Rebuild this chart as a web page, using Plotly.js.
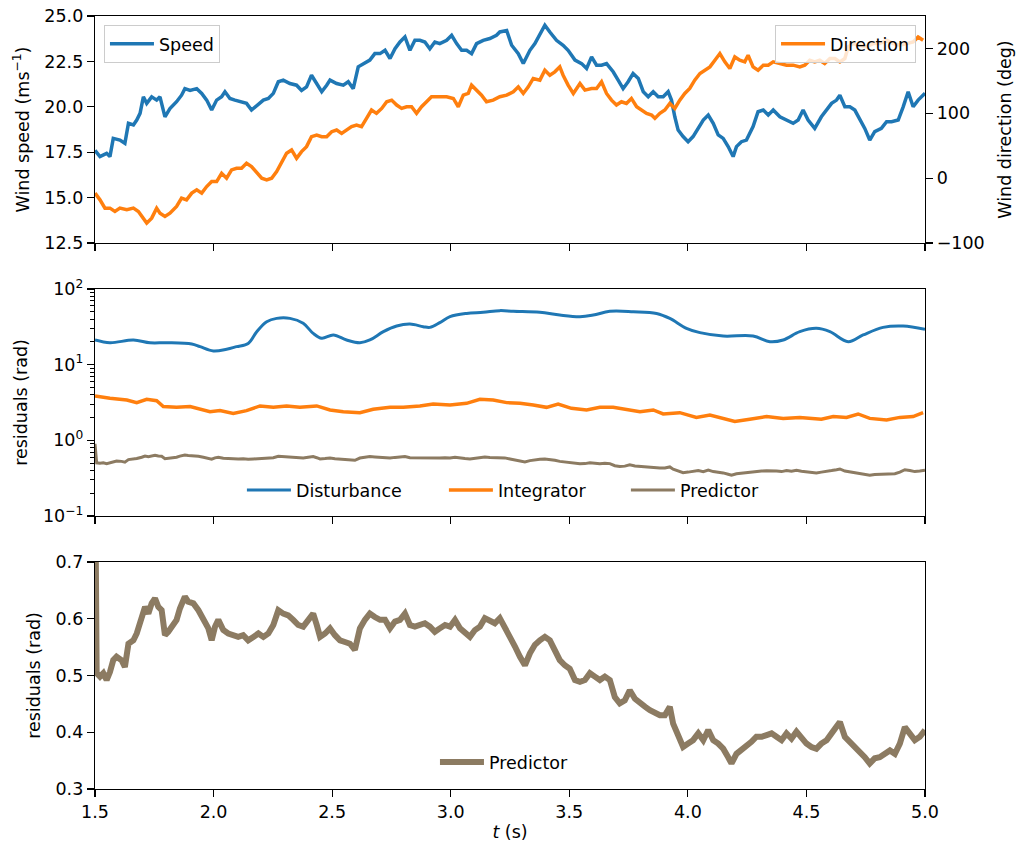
<!DOCTYPE html>
<html><head><meta charset="utf-8">
<script src="https://cdn.plot.ly/plotly-3.0.1.min.js"></script>
<style>html,body{margin:0;padding:0;background:#fff}#chart{width:1016px;height:846px}</style>
</head><body><div id="chart"></div>
<script>
// ---- Panel 1: wind speed (m/s) ----
const speedT = [1.500,1.521,1.549,1.563,1.577,1.605,1.626,1.641,1.662,1.676,1.690,1.704,1.718,1.739,1.760,1.774,1.795,1.816,1.844,1.865,1.879,1.901,1.929,1.950,1.971,1.992,2.013,2.034,2.048,2.069,2.090,2.111,2.139,2.160,2.182,2.210,2.231,2.252,2.273,2.294,2.322,2.350,2.371,2.392,2.413,2.435,2.456,2.477,2.491,2.519,2.547,2.568,2.589,2.610,2.631,2.659,2.680,2.702,2.723,2.744,2.765,2.786,2.807,2.828,2.849,2.870,2.891,2.912,2.933,2.954,2.983,3.004,3.025,3.046,3.067,3.088,3.109,3.137,3.165,3.193,
3.207,3.236,3.257,3.285,3.306,3.334,3.355,3.376,3.397,3.418,3.446,3.474,3.495,3.524,3.552,3.573,3.594,3.615,3.636,3.657,3.685,3.706,3.727,3.748,3.769,3.791,3.812,3.833,3.854,3.875,3.896,3.917,3.931,3.945,3.959,3.980,4.001,4.022,4.044,4.065,4.086,4.107,4.128,4.149,4.170,4.191,4.205,4.226,4.247,4.275,4.296,4.318,4.339,4.360,4.388,4.416,4.444,4.465,4.486,4.507,4.535,4.563,4.585,4.606,4.627,4.641,4.662,4.683,4.704,4.725,4.746,4.767,4.788,4.816,4.838,4.859,4.887,4.908,4.929,4.950,4.971,5.0];
const speedV = [17.6,17.26,17.44,17.26,18.26,18.17,17.99,19.09,19.0,19.27,19.64,20.55,20.19,20.55,20.37,20.55,19.45,19.9,20.28,20.64,21.0,20.9,21.0,20.74,20.37,19.82,20.37,20.55,20.83,20.46,20.37,20.28,20.19,19.82,20.09,20.37,20.46,20.74,21.38,21.47,21.28,21.19,20.9,21.1,21.74,21.28,20.83,21.19,21.47,21.28,21.19,21.38,21.0,22.2,22.38,22.57,22.93,22.93,23.11,22.66,23.2,23.57,23.85,23.11,23.66,23.66,23.57,23.2,23.57,23.48,23.66,23.94,23.48,23.11,23.11,22.93,23.48,23.66,23.76,23.94,
24.12,24.2,23.39,22.93,22.38,23.11,23.48,24.03,24.49,24.12,23.66,23.39,23.11,22.57,22.38,22.11,22.75,22.29,22.29,22.38,21.93,21.47,21.0,21.38,21.83,21.56,20.83,20.55,20.83,20.55,20.55,20.83,20.37,19.45,18.72,18.36,18.08,18.36,18.81,19.27,19.55,19.09,18.45,18.26,17.81,17.26,17.81,18.08,18.17,18.91,19.73,19.82,19.55,19.82,19.45,19.27,19.09,19.27,19.82,19.27,18.81,19.45,19.82,20.19,20.37,20.64,20.0,20.0,19.82,19.36,18.81,18.17,18.63,18.81,19.18,19.18,19.27,20.0,20.83,20.0,20.37,20.74];

// ---- Panel 1: wind direction (deg) ----
const dirT = [1.500,1.521,1.542,1.563,1.584,1.605,1.634,1.662,1.683,1.704,1.718,1.739,1.760,1.774,1.795,1.816,1.844,1.865,1.886,1.908,1.929,1.950,1.971,1.992,2.013,2.034,2.055,2.076,2.097,2.118,2.139,2.160,2.182,2.203,2.224,2.245,2.266,2.287,2.308,2.329,2.350,2.371,2.392,2.413,2.435,2.456,2.477,2.498,2.519,2.540,2.561,2.582,2.603,2.624,2.645,2.666,2.687,2.709,2.730,2.751,2.772,2.793,2.814,2.835,2.856,2.877,2.898,2.919,2.940,2.962,2.983,3.011,3.032,3.053,3.074,3.088,3.109,3.130,3.151,3.179,3.207,
3.236,3.264,3.285,3.306,3.327,3.348,3.376,3.397,3.418,3.439,3.460,3.474,3.495,3.517,3.545,3.566,3.594,3.615,3.636,3.657,3.678,3.699,3.720,3.741,3.762,3.784,3.805,3.826,3.847,3.861,3.882,3.903,3.924,3.945,3.966,3.987,4.008,4.029,4.051,4.072,4.093,4.114,4.135,4.156,4.177,4.198,4.219,4.240,4.254,4.275,4.296,4.318,4.339,4.360,4.388,4.416,4.444,4.472,4.493,4.514,4.535,4.556,4.577,4.599,4.620,4.641,4.662,4.676,4.697,4.725,4.753,4.781,4.809,4.838,4.866,4.894,4.922,4.950,4.971,4.992];
const dirV = [-23.1,-33.4,-46.2,-46.2,-51.3,-46.2,-48.8,-46.2,-51.3,-61.6,-69.3,-61.6,-46.2,-53.9,-59.0,-53.9,-43.6,-30.8,-33.4,-23.1,-18.0,-23.1,-12.9,-5.2,-5.2,7.6,-0.1,12.7,15.3,15.3,23.0,17.9,7.6,-0.1,-2.6,-0.1,10.2,23.0,38.4,43.5,30.7,40.9,48.6,64.0,66.5,64.0,64.0,71.7,74.2,69.1,74.2,79.4,81.9,79.4,92.2,105.0,99.9,107.5,117.8,120.3,112.7,107.5,110.1,110.1,99.9,110.1,117.8,125.5,125.5,125.5,125.5,122.9,110.1,128.0,130.6,143.4,135.7,128.0,117.8,120.3,125.5,
128.0,133.2,140.8,130.6,140.8,153.7,151.1,166.5,158.8,163.9,171.6,158.8,143.4,130.6,146.0,135.7,138.3,138.3,148.5,130.6,120.3,112.7,117.8,115.2,122.9,110.1,105.0,99.9,97.3,92.2,99.9,105.0,115.2,107.5,120.3,130.6,138.3,151.1,161.4,166.5,171.6,181.8,192.1,179.3,169.0,186.9,181.8,179.3,189.5,171.6,166.5,174.2,174.2,179.3,176.7,174.2,174.2,171.6,174.2,181.8,179.3,181.8,176.7,184.4,184.4,179.3,184.4,202.3,207.5,204.9,202.3,207.5,207.5,212.6,207.5,204.9,207.5,210.0,217.7,212.6];

// ---- Panel 2: residuals (rad, log) ----
const distT = [1.500,1.563,1.662,1.732,1.802,1.908,1.943,1.999,2.055,2.097,2.146,2.182,2.224,2.266,2.322,2.378,2.420,2.456,2.505,2.561,2.617,2.659,2.716,2.772,2.828,2.884,2.912,2.954,2.997,3.067,3.137,3.207,3.264,3.376,3.460,3.545,3.601,3.671,3.770,3.868,3.924,3.994,4.051,4.149,4.275,4.346,4.402,4.472,4.542,4.599,4.676,4.739,4.823,4.908,5.0];
const distV = [21.2,19.5,21.2,19.5,19.5,18.8,17.3,15.2,16.0,17.3,19.1,27.3,37.0,40.9,40.9,35.2,25.9,22.3,24.7,21.2,19.5,21.2,27.3,32.4,34.4,31.8,31.1,35.9,43.1,47.6,49.2,51.8,50.7,49.2,45.3,43.1,45.3,50.7,50.1,47.6,40.9,30.2,26.5,23.9,23.9,20.1,21.2,27.3,30.2,27.3,20.1,24.7,31.1,32.4,29.3];

const integT = [1.500,1.563,1.634,1.676,1.718,1.760,1.788,1.844,1.901,1.943,1.985,2.027,2.083,2.139,2.196,2.252,2.308,2.364,2.435,2.491,2.547,2.617,2.673,2.744,2.800,2.870,2.926,2.997,3.067,3.123,3.179,3.236,3.292,3.348,3.404,3.453,3.509,3.573,3.629,3.685,3.741,3.798,3.854,3.896,3.966,4.036,4.093,4.149,4.198,4.261,4.332,4.402,4.472,4.563,4.613,4.669,4.718,4.767,4.838,4.894,4.950,4.992];
const integV = [3.85,3.59,3.41,3.15,3.49,3.34,2.79,2.73,2.79,2.57,2.39,2.47,2.27,2.47,2.85,2.73,2.85,2.73,2.85,2.52,2.39,2.32,2.57,2.73,2.73,2.85,3.02,2.93,3.08,3.49,3.41,3.15,3.08,2.93,2.73,3.02,2.65,2.52,2.73,2.73,2.57,2.39,2.52,2.23,2.32,2.01,2.16,1.95,1.77,1.90,2.06,1.95,2.01,1.90,2.06,2.01,2.23,1.95,1.86,2.01,2.06,2.32];

// ---- Predictor residuals (rad), shown in panels 2 and 3 ----
const predT = [1.500,1.507,1.521,1.535,1.549,1.563,1.577,1.591,1.612,1.626,1.641,1.662,1.676,1.697,1.711,1.725,1.739,1.753,1.767,1.781,1.795,1.809,1.823,1.844,1.858,1.879,1.893,1.915,1.936,1.957,1.978,1.992,2.006,2.020,2.041,2.062,2.083,2.104,2.125,2.146,2.168,2.189,2.210,2.231,2.252,2.273,2.294,2.315,2.336,2.357,2.378,2.399,2.420,2.435,2.449,2.470,2.491,2.512,2.533,2.554,2.575,2.596,2.617,2.638,2.659,2.680,2.702,2.723,2.744,2.765,2.786,2.807,2.828,2.849,2.870,2.891,2.912,2.933,2.954,2.976,2.997,3.018,3.039,3.060,3.081,3.102,3.123,3.144,3.165,3.186,3.207,
3.228,3.250,3.271,3.292,3.313,3.334,3.355,3.376,3.397,3.418,3.439,3.460,3.481,3.502,3.524,3.545,3.566,3.587,3.608,3.629,3.650,3.671,3.692,3.713,3.734,3.755,3.777,3.798,3.819,3.840,3.861,3.882,3.903,3.924,3.938,3.959,3.980,4.001,4.022,4.044,4.065,4.086,4.107,4.128,4.149,4.170,4.184,4.205,4.226,4.247,4.268,4.289,4.311,4.332,4.353,4.374,4.395,4.416,4.437,4.458,4.479,4.500,4.521,4.542,4.563,4.585,4.606,4.627,4.641,4.662,4.683,4.704,4.725,4.746,4.767,4.788,4.809,4.831,4.852,4.873,4.894,4.915,4.936,4.957,4.978,5.0];
const predV = [0.90,0.504,0.498,0.504,0.492,0.506,0.527,0.533,0.527,0.515,0.556,0.562,0.574,0.598,0.621,0.609,0.627,0.636,0.621,0.615,0.571,0.577,0.586,0.598,0.618,0.639,0.630,0.627,0.615,0.598,0.583,0.562,0.586,0.598,0.580,0.574,0.571,0.568,0.571,0.562,0.568,0.574,0.568,0.574,0.589,0.615,0.609,0.606,0.598,0.589,0.586,0.598,0.609,0.589,0.568,0.574,0.583,0.571,0.562,0.559,0.556,0.545,0.583,0.598,0.609,0.603,0.598,0.598,0.583,0.595,0.598,0.609,0.589,0.586,0.589,0.592,0.586,0.577,0.583,0.589,0.586,0.598,0.583,0.574,0.568,0.580,0.586,0.601,0.595,0.592,0.601,
0.586,0.568,0.551,0.533,0.518,0.539,0.554,0.562,0.568,0.562,0.545,0.527,0.518,0.512,0.492,0.489,0.492,0.504,0.498,0.492,0.498,0.492,0.462,0.451,0.456,0.474,0.459,0.451,0.445,0.439,0.433,0.430,0.430,0.445,0.415,0.392,0.374,0.380,0.386,0.398,0.386,0.404,0.386,0.380,0.371,0.356,0.345,0.362,0.368,0.374,0.383,0.392,0.392,0.395,0.398,0.392,0.386,0.398,0.389,0.401,0.389,0.380,0.374,0.371,0.380,0.386,0.398,0.409,0.418,0.392,0.383,0.374,0.368,0.356,0.345,0.354,0.356,0.362,0.368,0.362,0.380,0.409,0.398,0.386,0.392,0.404];

const xTicks = [1.5,2.0,2.5,3.0,3.5,4.0,4.5,5.0];
const speedTicks = [12.5,15.0,17.5,20.0,22.5,25.0];
const dirTicks = [-100,0,100,200];
const logTicks = [0.1,1,10,100];
const logTickText = ['10<sup>−1</sup>','10<sup>0</sup>','10<sup>1</sup>','10<sup>2</sup>'];
const logMinor = [0.2,0.3,0.4,0.5,0.6,0.7,0.8,0.9,2,3,4,5,6,7,8,9,20,30,40,50,60,70,80,90];
const resTicks = [0.3,0.4,0.5,0.6,0.7];

const BLUE='#1f77b4', ORANGE='#ff7f0e', BROWN='#8c7b62';
const FONT = {family:'DejaVu Sans, sans-serif', size:17.5, color:'#000'};

const traces = [
  {x:speedT, y:speedV, xaxis:'x', yaxis:'y', type:'scatter', mode:'lines', name:'Speed', line:{color:BLUE, width:3.5}, legend:'legend'},
  {x:dirT, y:dirV, xaxis:'x', yaxis:'y2', type:'scatter', mode:'lines', name:'Direction', line:{color:ORANGE, width:3.5}, legend:'legend2'},
  {x:distT, y:distV, xaxis:'x2', yaxis:'y3', type:'scatter', mode:'lines', name:'Disturbance', line:{color:BLUE, width:3, shape:'spline', smoothing:1}, legend:'legend3', legendwidth:143},
  {x:integT, y:integV, xaxis:'x2', yaxis:'y3', type:'scatter', mode:'lines', name:'Integrator', line:{color:ORANGE, width:3.5}, legend:'legend3', legendwidth:123},
  {x:predT, y:predV, xaxis:'x2', yaxis:'y3', type:'scatter', mode:'lines', name:'Predictor', line:{color:BROWN, width:3}, legend:'legend3'},
  {x:predT, y:predV, xaxis:'x3', yaxis:'y4', type:'scatter', mode:'lines', name:'Predictor', line:{color:BROWN, width:6}, legend:'legend4'}
];

function xa(anchor, labels){
  return {anchor:anchor, domain:[0,1], range:[1.5,5.0], tickmode:'array', tickvals:xTicks,
    ticktext: xTicks.map(v=>v.toFixed(1)), showticklabels:labels,
    ticks:'outside', ticklen:7, tickwidth:1.2, tickcolor:'#000',
    showline:true, mirror:true, linecolor:'#000', linewidth:1.2,
    showgrid:false, zeroline:false, tickfont:FONT};
}
function ya(domain, extra){
  return Object.assign({domain:domain, ticks:'outside', ticklen:7, tickwidth:1.2, tickcolor:'#000',
    showline:true, mirror:true, linecolor:'#000', linewidth:1.2,
    showgrid:false, zeroline:false, tickfont:FONT}, extra);
}

const layout = {
  width:1016, height:846,
  margin:{l:95, r:91, t:16, b:57},
  paper_bgcolor:'#fff', plot_bgcolor:'#fff',
  font:FONT,
  xaxis: xa('y', false),
  xaxis2: Object.assign(xa('y3', false), {matches:'x'}),
  xaxis3: Object.assign(xa('y4', true), {matches:'x', title:{text:'<i>t</i> (s)', font:FONT, standoff:4}}),
  yaxis: ya([0.7063,1.0], {range:[12.5,25.0], tickmode:'array', tickvals:speedTicks, ticktext:speedTicks.map(v=>v.toFixed(1)),
    title:{text:'Wind speed (ms<sup>−1</sup>)', font:FONT, standoff:10}}),
  yaxis2: {overlaying:'y', side:'right', anchor:'x', range:[-100,250], tickmode:'array', tickvals:dirTicks,
    ticks:'outside', ticklen:7, tickwidth:1.2, tickcolor:'#000', showline:true, linecolor:'#000', linewidth:1.2,
    showgrid:false, zeroline:false, tickfont:FONT, title:{text:'Wind direction (deg)', font:FONT, standoff:15}},
  yaxis3: ya([0.3532,0.6468], {type:'log', range:[-1,2], tickmode:'array', tickvals:logTicks, ticktext:logTickText,
    minor:{tickmode:'array', tickvals:logMinor, ticks:'outside', ticklen:4, tickwidth:1, tickcolor:'#000', showgrid:false},
    title:{text:'residuals (rad)', font:FONT, standoff:10}}),
  yaxis4: ya([0,0.2937], {range:[0.3,0.7], tickmode:'array', tickvals:resTicks, ticktext:resTicks.map(v=>v.toFixed(1)),
    title:{text:'residuals (rad)', font:FONT, standoff:10}}),
  showlegend:true,
  legend:{x:0.0108, y:0.9884, xanchor:'left', yanchor:'top', itemwidth:44, bgcolor:'rgba(255,255,255,0.8)', bordercolor:'#cccccc', borderwidth:1, font:FONT},
  legend2:{x:0.9892, y:0.9884, xanchor:'right', yanchor:'top', itemwidth:44, bgcolor:'rgba(255,255,255,0.8)', bordercolor:'#cccccc', borderwidth:1, font:FONT},
  legend3:{x:0.177, y:0.3868, xanchor:'left', yanchor:'middle', orientation:'h', itemwidth:44, bgcolor:'rgba(0,0,0,0)', borderwidth:0, font:FONT},
  legend4:{x:0.4096, y:0.0349, xanchor:'left', yanchor:'middle', orientation:'h', itemwidth:44, bgcolor:'rgba(0,0,0,0)', borderwidth:0, font:FONT}
};

Plotly.newPlot('chart', traces, layout, {displayModeBar:false, staticPlot:true});
</script>
</body></html>
